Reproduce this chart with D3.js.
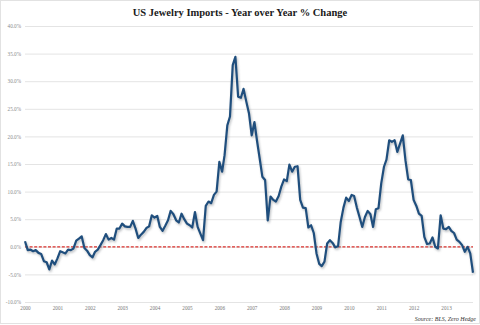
<!DOCTYPE html>
<html>
<head>
<meta charset="utf-8">
<script src="https://cdn.jsdelivr.net/npm/d3@7/dist/d3.min.js"></script>
<style>
  html, body { margin: 0; padding: 0; background: #fff; }
  svg { display: block; }
</style>
</head>
<body>
<div id="chart"></div>
<script>
// Monthly year-over-year % change in US jewelry imports, Jan 2000 – Oct 2013
const startYear = 2000;
const startMonth = 0;
const yoyChange = [
  // 2000
  1.0, -0.6, -0.5, -0.8, -0.6, -1.1, -1.3, -2.6, -2.8, -4.1, -2.5, -3.2,
  // 2001
  -2.1, -0.8, -1.0, -1.2, -0.5, -0.6, -0.3, 1.1, 1.5, 1.9, -0.2, -0.7,
  // 2002
  -1.5, -1.9, -0.9, -0.5, 0.3, 1.2, 2.3, 1.3, 1.6, 1.3, 3.3, 3.3,
  // 2003
  4.2, 3.7, 3.6, 3.6, 4.7, 3.3, 1.6, 2.2, 2.7, 3.4, 3.7, 5.7,
  // 2004
  5.3, 5.6, 3.6, 2.9, 3.8, 4.8, 6.5, 5.9, 4.8, 4.4, 6.0, 5.0,
  // 2005
  4.2, 3.9, 3.5, 6.3, 3.6, 2.4, 1.2, 7.4, 8.2, 7.9, 9.4, 10.0,
  // 2006
  15.4, 13.6, 16.6, 22.0, 23.6, 32.9, 34.4, 27.2, 27.0, 28.6, 26.3, 24.2,
  // 2007
  20.2, 22.6, 19.3, 16.0, 12.7, 12.1, 4.8, 9.1, 8.5, 8.2, 9.2, 10.9,
  // 2008
  12.2, 11.9, 14.9, 13.6, 14.5, 14.6, 8.5, 7.1, 7.0, 3.5, 3.9, 2.5,
  // 2009
  -1.2, -3.1, -3.5, -2.7, 0.6, 1.2, 0.7, -0.1, 0.1, 4.5, 7.1, 8.9,
  // 2010
  8.3, 9.4, 9.2, 7.1, 5.4, 3.6, 5.4, 6.5, 5.9, 3.6, 6.8, 7.0,
  // 2011
  11.5, 14.5, 15.8, 19.3, 19.0, 19.3, 17.2, 18.7, 20.2, 15.7, 12.2, 12.1,
  // 2012
  8.5, 7.4, 6.0, 5.6, 1.8, 0.5, 0.6, 1.7, 0.0, -0.3, 5.7, 3.3,
  // 2013
  3.2, 3.6, 2.9, 2.5, 1.3, 0.9, 0.3, -0.9, 0.0, -1.2, -4.7
];
const yearTicks = [2000, 2001, 2002, 2003, 2004, 2005, 2006, 2007, 2008, 2009, 2010, 2011, 2012, 2013];
const pctTicks = [-10, -5, 0, 5, 10, 15, 20, 25, 30, 35, 40];

const titleText = "US Jewelry Imports - Year over Year % Change";
const sourceText = "Source: BLS, Zero Hedge";

const W = 480, H = 325;
const margin = { left: 25, right: 7, top: 26, bottom: 23 };

const series = yoyChange.map((v, i) => ({ date: new Date(startYear, startMonth + i, 1), value: v }));

const svg = d3.select("#chart").append("svg")
  .attr("width", W).attr("height", H);

// outer frame
svg.append("rect")
  .attr("x", 0.5).attr("y", 0.5).attr("width", W - 1).attr("height", H - 2)
  .attr("fill", "#fff").attr("stroke", "#e2e2e2");

const x = d3.scaleTime()
  .domain([new Date(2000, 0, 1), series[series.length - 1].date])
  .range([margin.left, W - margin.right]);
const y = d3.scaleLinear()
  .domain([-10, 40])
  .range([H - margin.bottom, margin.top]);

// horizontal gridlines + percentage labels
const yAxis = d3.axisLeft(y)
  .tickValues(pctTicks)
  .tickSize(-(W - margin.right - margin.left))
  .tickPadding(4)
  .tickFormat(d => d.toFixed(1) + "%");
const gy = svg.append("g")
  .attr("transform", `translate(${margin.left},0)`)
  .call(yAxis);
gy.select(".domain").remove();
gy.selectAll(".tick line").attr("stroke", "#e4e4e4").attr("stroke-width", 1);
gy.selectAll(".tick text")
  .attr("fill", "#8a8a8a")
  .attr("font-family", "'Liberation Serif', serif")
  .attr("font-size", 5.2);

// year labels
const xAxis = d3.axisBottom(x)
  .tickValues(yearTicks.map(yr => new Date(yr, 0, 1)))
  .tickSize(0)
  .tickPadding(4)
  .tickFormat(d3.timeFormat("%Y"));
const gx = svg.append("g")
  .attr("transform", `translate(0,${H - margin.bottom})`)
  .call(xAxis);
gx.select(".domain").remove();
gx.selectAll(".tick text")
  .attr("fill", "#777")
  .attr("font-family", "'Liberation Serif', serif")
  .attr("font-size", 5.2);

// zero reference line
svg.append("line")
  .attr("x1", margin.left).attr("x2", W - margin.right)
  .attr("y1", y(0)).attr("y2", y(0))
  .attr("stroke", "#d9302c")
  .attr("stroke-width", 1.2)
  .attr("stroke-dasharray", "3,1.6");

// soft drop shadow under the series line
const defs = svg.append("defs");
defs.append("filter").attr("id", "lineShadow")
  .attr("x", "-5%").attr("y", "-5%").attr("width", "110%").attr("height", "110%")
  .append("feGaussianBlur").attr("stdDeviation", 1.1);

const line = d3.line()
  .x(d => x(d.date))
  .y(d => y(d.value));

svg.append("path")
  .datum(series)
  .attr("d", line)
  .attr("fill", "none")
  .attr("stroke", "#8a8f96")
  .attr("stroke-opacity", 0.55)
  .attr("stroke-width", 2.4)
  .attr("stroke-linejoin", "round")
  .attr("transform", "translate(1,1.6)")
  .attr("filter", "url(#lineShadow)");

svg.append("path")
  .datum(series)
  .attr("d", line)
  .attr("fill", "none")
  .attr("stroke", "#1f4e7d")
  .attr("stroke-width", 2.2)
  .attr("stroke-linejoin", "round");

// title
svg.append("text")
  .attr("x", 240).attr("y", 15.5)
  .attr("text-anchor", "middle")
  .attr("font-family", "'Liberation Serif', serif")
  .attr("font-weight", "bold")
  .attr("font-size", 10.5)
  .attr("fill", "#1a1a1a")
  .text(titleText);

// source note
svg.append("text")
  .attr("x", 476).attr("y", 320.5)
  .attr("text-anchor", "end")
  .attr("font-family", "'Liberation Serif', serif")
  .attr("font-style", "italic")
  .attr("font-size", 6)
  .attr("fill", "#333")
  .text(sourceText);
</script>
</body>
</html>
